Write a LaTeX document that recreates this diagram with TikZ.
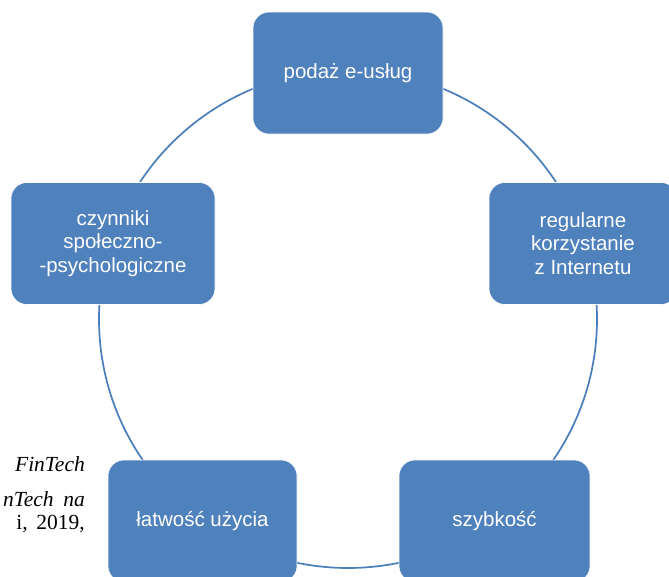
\documentclass[tikz,border=0pt]{standalone}
\usepackage{fontspec}
\setmainfont{Liberation Sans}
\newfontfamily\strayfont{Liberation Serif}
\definecolor{boxblue}{HTML}{4F81BD}
\definecolor{ringblue}{HTML}{4A7EBB}
\begin{document}
\begin{tikzpicture}[x=1pt,y=-1pt,
  box/.style={rounded corners=16pt, fill=boxblue, draw=white, line width=0.6pt,
    text=white, align=center, minimum height=122pt, inner sep=2pt,
    font=\fontsize{20.5}{23.5}\selectfont},
  ring/.style={draw=ringblue, line width=1.7pt},
  stray/.style={inner sep=0pt, align=right, font=\strayfont\fontsize{21.5}{23}\selectfont}
]
\useasboundingbox (0,0) rectangle (669,576);
\clip (0,0) rectangle (669,576);
\coordinate (c) at (348,319);
\draw[ring] (c) circle[radius=249pt];
\node[box, minimum width=190pt] (top) at (348,73) {podaż e-usług};
\node[box, minimum width=188pt] (right) at (583,243.5) {regularne\\korzystanie\\z Internetu};
\node[box, minimum width=204pt] (left) at (113,243.5) {czynniki\\społeczno-\\-psychologiczne};
\node[box, minimum width=189pt] (bl) at (202.5,521) {łatwość użycia};
\node[box, minimum width=191pt] (br) at (494.5,521) {szybkość};
\node[stray, anchor=base east] (s1) at (85,471) {\itshape FinTech};
\node[stray, anchor=north east] (s2) at (85,491) {\itshape nTech\hspace{0.45em}na\\i,\hspace{0.4em}2019,};
\end{tikzpicture}
\end{document}
